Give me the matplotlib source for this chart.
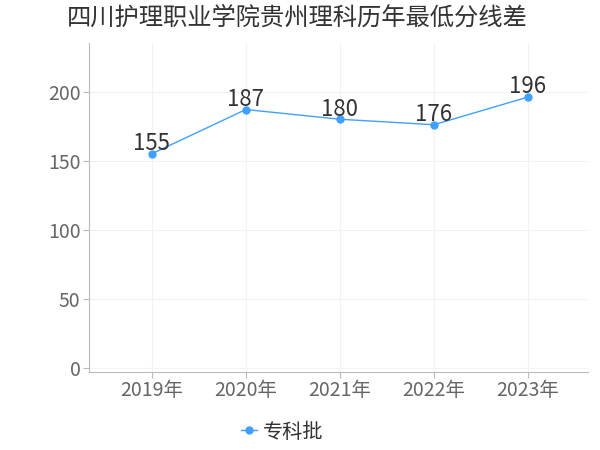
import matplotlib
matplotlib.use('Agg')
import matplotlib.pyplot as plt

plt.rcParams['font.family'] = ['Noto Sans CJK SC', 'DejaVu Sans']

years = ['2019年', '2020年', '2021年', '2022年', '2023年']
scores = [155, 187, 180, 176, 196]
series_name = '专科批'
title = '四川护理职业学院贵州理科历年最低分线差'

fig = plt.figure(figsize=(6, 4.5), dpi=100)
ax = fig.add_axes([0.148, 0.173, 0.832, 0.731])

x = list(range(len(years)))
ax.plot(x, scores, color='#3fa0ff', lw=1, marker='o', ms=5, label=series_name, zorder=3)
for xi, v in zip(x, scores):
    ax.text(xi, v - 1, str(v), ha='center', va='bottom', fontsize=16, color='#333333')

ax.set_xlim(-0.67, 4.64)
ax.set_ylim(-3, 235)
ax.set_yticks([0, 50, 100, 150, 200])
ax.set_xticks(x)
ax.set_xticklabels(years)
ax.tick_params(axis='both', labelsize=14, colors='#666666', length=4, pad=2)
ax.tick_params(axis='both', color='#bbbbbb')
ax.grid(True, color='#f2f2f2', lw=0.8)
ax.set_axisbelow(True)
for s in ['top', 'right']:
    ax.spines[s].set_visible(False)
ax.spines['left'].set_color('#bbbbbb')
ax.spines['bottom'].set_color('#bbbbbb')

fig.text(0.495, 0.96, title, ha='center', va='center', fontsize=17.5, color='#333333')
fig.legend(loc='center', bbox_to_anchor=(0.47, 0.04), frameon=False, fontsize=14.5,
           handlelength=0.8, handletextpad=0.3, labelcolor='#333333')

fig.savefig('out.png')
